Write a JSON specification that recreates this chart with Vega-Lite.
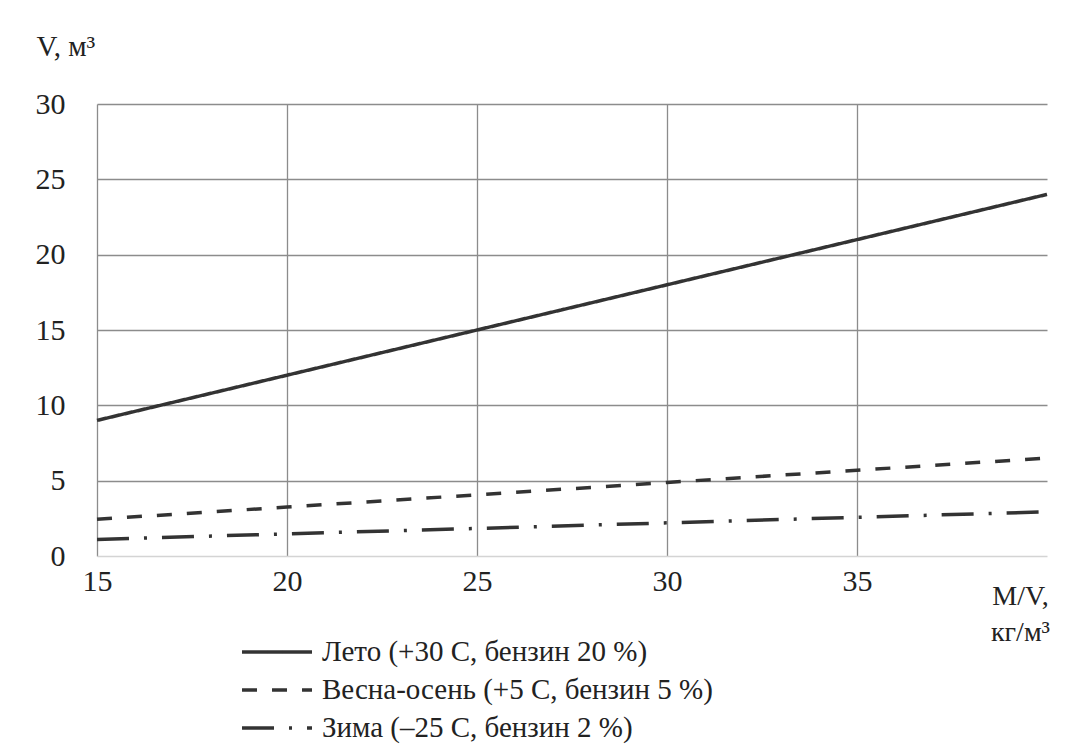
{
  "$schema": "https://vega.github.io/schema/vega-lite/v6.json",
  "width": 950,
  "height": 452,
  "autosize": "none",
  "padding": {"left": 97, "top": 104, "right": 43, "bottom": 189},
  "background": "white",
  "data": {
    "values": [
      {"x": 15, "v": 9, "s": "Лето (+30 С, бензин 20 %)"},
      {"x": 20, "v": 12, "s": "Лето (+30 С, бензин 20 %)"},
      {"x": 25, "v": 15, "s": "Лето (+30 С, бензин 20 %)"},
      {"x": 30, "v": 18, "s": "Лето (+30 С, бензин 20 %)"},
      {"x": 35, "v": 21, "s": "Лето (+30 С, бензин 20 %)"},
      {"x": 40, "v": 24, "s": "Лето (+30 С, бензин 20 %)"},
      {"x": 15, "v": 2.44, "s": "Весна-осень (+5 С, бензин 5 %)"},
      {"x": 20, "v": 3.25, "s": "Весна-осень (+5 С, бензин 5 %)"},
      {"x": 25, "v": 4.06, "s": "Весна-осень (+5 С, бензин 5 %)"},
      {"x": 30, "v": 4.88, "s": "Весна-осень (+5 С, бензин 5 %)"},
      {"x": 35, "v": 5.69, "s": "Весна-осень (+5 С, бензин 5 %)"},
      {"x": 40, "v": 6.5, "s": "Весна-осень (+5 С, бензин 5 %)"},
      {"x": 15, "v": 1.1, "s": "Зима (–25 С, бензин 2 %)"},
      {"x": 20, "v": 1.47, "s": "Зима (–25 С, бензин 2 %)"},
      {"x": 25, "v": 1.83, "s": "Зима (–25 С, бензин 2 %)"},
      {"x": 30, "v": 2.2, "s": "Зима (–25 С, бензин 2 %)"},
      {"x": 35, "v": 2.57, "s": "Зима (–25 С, бензин 2 %)"},
      {"x": 40, "v": 2.93, "s": "Зима (–25 С, бензин 2 %)"}
    ]
  },
  "mark": {"type": "line", "strokeWidth": 3.5, "color": "#333333"},
  "encoding": {
    "x": {
      "field": "x", "type": "quantitative",
      "scale": {"domain": [15, 40], "nice": false, "zero": false},
      "axis": {
        "values": [15, 20, 25, 30, 35],
        "domain": false, "ticks": false,
        "gridColor": "#8c8c8c", "gridWidth": 1.3,
        "labelFont": "Liberation Serif", "labelFontSize": 30, "labelColor": "#222",
        "labelPadding": 10, "labelFlush": false,
        "title": ["M/V,", "кг/м³"],
        "titleFont": "Liberation Serif", "titleFontSize": 28, "titleFontWeight": "normal", "titleColor": "#222",
        "titleAlign": "center", "titleAnchor": "start", "titleBaseline": "top",
        "titleX": 923, "titleY": 26, "titleLineHeight": 36
      }
    },
    "y": {
      "field": "v", "type": "quantitative",
      "scale": {"domain": [0, 30], "nice": false},
      "axis": {
        "values": [0, 5, 10, 15, 20, 25, 30],
        "domain": false, "ticks": false,
        "gridColor": {"condition": {"test": "datum.value === 0", "value": "#d4d4d4"}, "value": "#8c8c8c"},
        "gridWidth": 1.3,
        "labelFont": "Liberation Serif", "labelFontSize": 30, "labelColor": "#222",
        "labelPadding": 32,
        "title": "V, м³",
        "titleFont": "Liberation Serif", "titleFontSize": 29, "titleFontWeight": "normal", "titleColor": "#222",
        "titleAngle": 0, "titleAlign": "left", "titleBaseline": "middle",
        "titleX": -61, "titleY": -58
      }
    },
    "strokeDash": {
      "field": "s", "type": "nominal",
      "sort": ["Лето (+30 С, бензин 20 %)", "Весна-осень (+5 С, бензин 5 %)", "Зима (–25 С, бензин 2 %)"],
      "scale": {
        "domain": ["Лето (+30 С, бензин 20 %)", "Весна-осень (+5 С, бензин 5 %)", "Зима (–25 С, бензин 2 %)"],
        "range": [[1, 0], [15, 15], [32, 15, 3, 15]]
      },
      "legend": {
        "title": null,
        "orient": "none",
        "legendX": 163, "legendY": 531,
        "symbolType": "M-2.333,0L2.333,0", "symbolSize": 900, "symbolStrokeWidth": 3.5,
        "symbolStrokeColor": "#333333",
        "labelFont": "Liberation Serif", "labelFontSize": 29, "labelColor": "#222",
        "labelOffset": 28, "rowPadding": 6, "labelLimit": 600
      }
    }
  },
  "config": {"view": {"stroke": null}}
}
